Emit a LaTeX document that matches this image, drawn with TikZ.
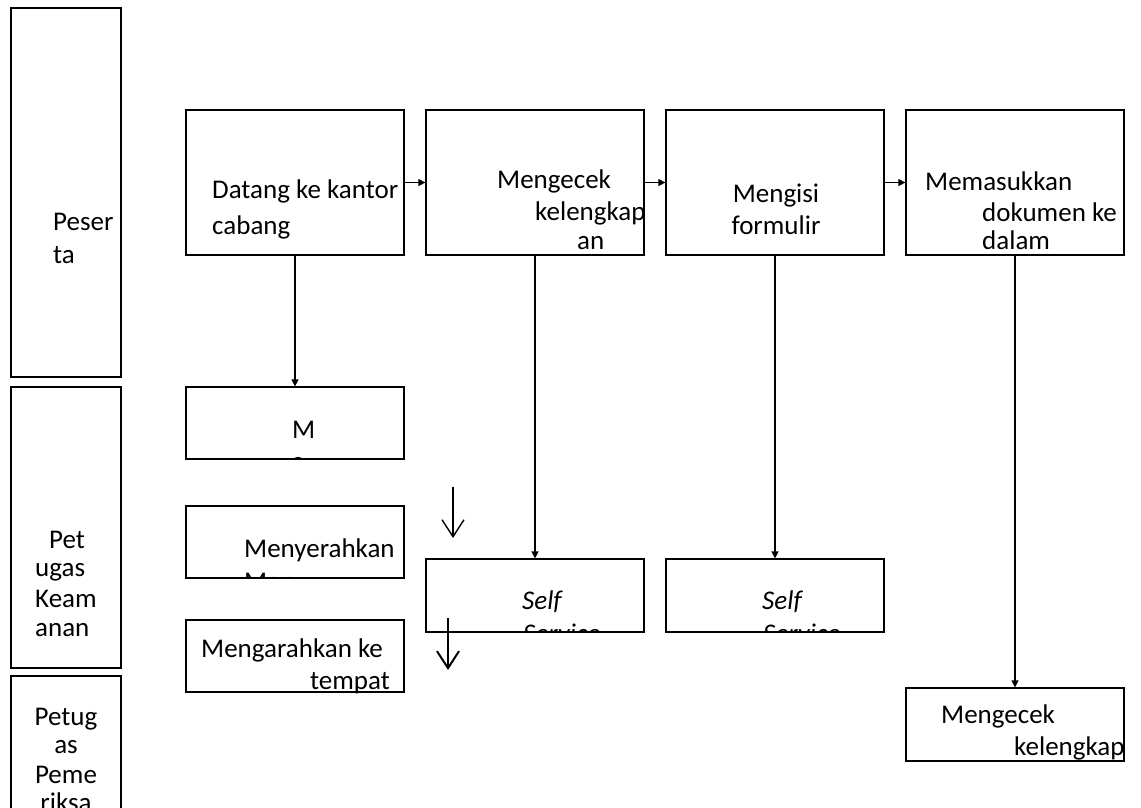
\documentclass[tikz,border=0pt]{standalone}
\usepackage{fontspec}
\setmainfont{Carlito}
\usetikzlibrary{arrows.meta}
\begin{document}
\begin{tikzpicture}[x=1pt,y=-1pt,
  lane/.style={draw, line width=1.8pt, minimum width=110pt, inner sep=0pt},
  box/.style={draw, line width=1.2pt, minimum width=218pt, inner sep=0pt},
  txt/.style={inner sep=0pt, anchor=base west, font=\fontsize{27}{31}\selectfont},
  ctxt/.style={txt, anchor=base},
  itxt/.style={txt, font=\fontsize{27}{31}\selectfont\itshape},
  flow/.style={line width=1.2pt, -{Triangle[length=7pt,width=7pt]}},
  loose/.style={line width=1.4pt, -{Straight Barb[length=17pt,width=22pt]}}]
\useasboundingbox (0,0) rectangle (1141,808);

% swimlanes
\node[lane, minimum height=369pt] (lp) at (66,192.5) {};
\node[lane, minimum height=281pt] (lk) at (66,527.5) {};
\node[lane, minimum height=136pt] (lr) at (66,744) {};
\node[txt] (lp1) at (53,230) {Peser};
\node[txt] (lp2) at (53,263) {ta};
\node[txt] (lk1) at (49,548) {Pet};
\node[txt] (lk2) at (35,576) {ugas};
\node[txt] (lk3) at (35,607) {Keam};
\node[txt] (lk4) at (35,636) {anan};
\node[ctxt] (lr1) at (66,725) {Petug};
\node[ctxt] (lr2) at (66,753) {as};
\node[ctxt] (lr3) at (66,783) {Peme};
\node[ctxt] (lr4) at (66,811) {riksa};

% top row: participant steps
\node[box, minimum height=145pt] (b1) at (295,182.5) {};
\node[box, minimum height=145pt] (b2) at (535,182.5) {};
\node[box, minimum height=145pt] (b3) at (775,182.5) {};
\node[box, minimum height=145pt] (b4) at (1015,182.5) {};
\node[txt] (b1a) at (212,198) {Datang ke kantor};
\node[txt] (b1b) at (212,234) {cabang};
\node[txt] (b2a) at (497,188) {Mengecek};
\node[txt] (b2b) at (535,220) {kelengkap};
\node[txt] (b2c) at (577,249) {an};
\node[ctxt] (b3a) at (776,202) {Mengisi};
\node[ctxt] (b3b) at (776,234) {formulir};
\node[txt] (b4a) at (925,190) {Memasukkan};
\node[txt] (b4b) at (982,221) {dokumen ke};
\node[txt] (b4c) at (982,249) {dalam};

% security officer steps
\node[box, minimum height=72pt] (m1) at (295,423) {};
\node[box, minimum height=72pt] (m2) at (295,542) {};
\node[box, minimum height=72pt] (m3) at (295,656) {};
\begin{scope}
  \clip (m1.south west) rectangle (m1.north east);
  \node[txt] (m1a) at (292,438) {M};
  \node[txt] (m1b) at (291,470) {e};
\end{scope}
\begin{scope}
  \clip (m2.south west) rectangle (m2.north east);
  \node[txt] (m2a) at (244,557) {Menyerahkan};
  \node[txt] (m2b) at (244,590) {Map};
\end{scope}
\node[txt] (m3a) at (201,657) {Mengarahkan ke};
\node[txt] (m3b) at (310,689) {tempat};

% self service boxes
\node[box, minimum height=73pt] (s1) at (535,595.5) {};
\node[box, minimum height=73pt] (s2) at (775,595.5) {};
\begin{scope}
  \clip (s1.south west) rectangle (s1.north east);
  \node[itxt] (s1a) at (522,609) {Self};
  \node[itxt] (s1b) at (523,642) {Service};
\end{scope}
\begin{scope}
  \clip (s2.south west) rectangle (s2.north east);
  \node[itxt] (s2a) at (762,609) {Self};
  \node[itxt] (s2b) at (763,642) {Service};
\end{scope}

% examiner step
\node[box, minimum height=73pt] (k1) at (1015,724.5) {};
\node[txt] (k1a) at (941,723) {Mengecek};
\node[txt] (k1b) at (1014,755) {kelengkap};

% connectors
\draw[flow] (b1.east) -- (b2.west);
\draw[flow] (b2.east) -- (b3.west);
\draw[flow] (b3.east) -- (b4.west);
\draw[flow] (b1.south) -- (m1.north);
\draw[flow] (b2.south) -- (s1.north);
\draw[flow] (b3.south) -- (s2.north);
\draw[flow] (b4.south) -- (k1.north);

% loose down arrows
\coordinate (f1s) at (453,487);
\coordinate (f1e) at (453,538);
\coordinate (f2s) at (448,618);
\coordinate (f2e) at (448,670);
\draw[loose] (f1s) -- (f1e);
\draw[loose, line width=2pt] (f2s) -- (f2e);
\end{tikzpicture}
\end{document}
